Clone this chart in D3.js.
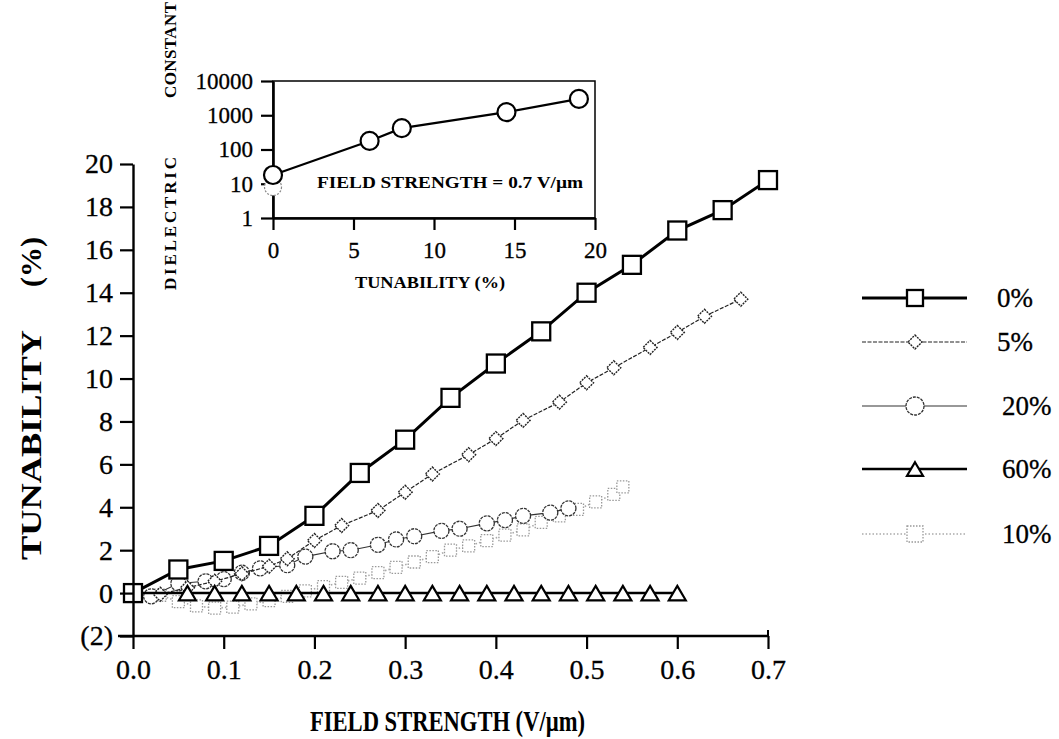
<!DOCTYPE html>
<html>
<head>
<meta charset="utf-8">
<script src="https://cdn.jsdelivr.net/npm/d3@7"></script>
<style>
  body { margin: 0; background: #fff; }
  svg text { font-family: "Liberation Serif", "Times New Roman", "DejaVu Serif", serif !important; }
</style>
</head>
<body>
<svg id="chart" width="1059" height="739"></svg>
<script>
// main chart data: tunability (%) vs field strength (V/um)
const s0x = [0, 0.05, 0.1, 0.15, 0.2, 0.25, 0.3, 0.35, 0.4, 0.45, 0.5, 0.55, 0.6, 0.65, 0.7];
const s0y = [0, 1.1, 1.5, 2.2, 3.6, 5.6, 7.15, 9.1, 10.7, 12.2, 14.0, 15.3, 16.9, 17.85, 19.25];

const s5x = [0.03, 0.06, 0.09, 0.12, 0.15, 0.17, 0.2, 0.23, 0.27, 0.3, 0.33, 0.37, 0.4, 0.43, 0.47, 0.5, 0.53, 0.57, 0.6, 0.63, 0.67];
const s5y = [-0.05, 0.25, 0.55, 0.9, 1.25, 1.6, 2.45, 3.15, 3.85, 4.7, 5.55, 6.45, 7.2, 8.05, 8.9, 9.8, 10.5, 11.45, 12.15, 12.9, 13.7];

const s20x = [0.02, 0.05, 0.08, 0.1, 0.12, 0.14, 0.17, 0.19, 0.22, 0.24, 0.27, 0.29, 0.31, 0.34, 0.36, 0.39, 0.41, 0.43, 0.46, 0.48];
const s20y = [-0.15, 0.45, 0.55, 0.65, 0.95, 1.15, 1.3, 1.7, 1.95, 2.0, 2.25, 2.5, 2.65, 2.9, 3.0, 3.25, 3.4, 3.6, 3.75, 3.95];

const s60x = [0, 0.06, 0.09, 0.12, 0.15, 0.18, 0.21, 0.24, 0.27, 0.3, 0.33, 0.36, 0.39, 0.42, 0.45, 0.48, 0.51, 0.54, 0.57, 0.6];
const s60y = [0, 0, 0, 0, 0, 0, 0, 0, 0, 0, 0, 0, 0, 0, 0, 0, 0, 0, 0, 0];

const s10x = [0.03, 0.05, 0.07, 0.09, 0.11, 0.13, 0.15, 0.17, 0.19, 0.21, 0.23, 0.25, 0.27, 0.29, 0.31, 0.33, 0.35, 0.37, 0.39, 0.41, 0.43, 0.45, 0.47, 0.49, 0.51, 0.53, 0.54];
const s10y = [-0.1, -0.4, -0.6, -0.7, -0.65, -0.5, -0.35, -0.15, 0.1, 0.3, 0.5, 0.7, 0.95, 1.2, 1.45, 1.7, 2.0, 2.2, 2.45, 2.7, 2.95, 3.3, 3.6, 3.9, 4.25, 4.6, 4.95];

const xTicks = [0, 0.1, 0.2, 0.3, 0.4, 0.5, 0.6, 0.7];
const yTicks = [-2, 0, 2, 4, 6, 8, 10, 12, 14, 16, 18, 20];

// inset: dielectric constant vs tunability at 0.7 V/um
const insetX = [0, 6, 8, 14.5, 19];
const insetY = [18, 178, 420, 1230, 3000];
const insetGhostX = [0];
const insetGhostY = [8];
const insetXTicks = [0, 5, 10, 15, 20];
const insetYTicks = [1, 10, 100, 1000, 10000];

const legendLabels = ["0%", "5%", "20%", "60%", "10%"];

const svg = d3.select("#chart");

const x = d3.scaleLinear().domain([0, 0.7]).range([133, 768]);
const y = d3.scaleLinear().domain([-2, 20]).range([636, 164]);

const zip = (xs, ys) => xs.map((v, i) => ({ x: v, y: ys[i] }));

// symbol painters
function drawSym(g, type, size) {
  if (type === "square") {
    g.append("rect").attr("x", -size / 2).attr("y", -size / 2)
      .attr("width", size).attr("height", size);
  } else if (type === "diamond") {
    g.append("path").attr("d", `M0,${-size / 2}L${size / 2},0L0,${size / 2}L${-size / 2},0Z`);
  } else if (type === "circle") {
    g.append("circle").attr("r", size / 2);
  } else if (type === "triangle") {
    const h = size * 0.85;
    g.append("path").attr("d", `M0,${-h / 2}L${size / 2},${h / 2}L${-size / 2},${h / 2}Z`);
  }
}

const series = [
  { name: "10%", data: zip(s10x, s10y), sym: "square", size: 12, line: "#aaa", lw: 1.6, dash: "1.5,2", ms: "#999", mw: 1.3, mdash: "1.5,1.5" },
  { name: "20%", data: zip(s20x, s20y), sym: "circle", size: 15, line: "#333", lw: 1.1, dash: null, ms: "#333", mw: 1.3, mdash: "3,1" },
  { name: "5%", data: zip(s5x, s5y), sym: "diamond", size: 14, line: "#222", lw: 1.2, dash: "4,1.5", ms: "#222", mw: 1.4, mdash: "2,1" },
  { name: "60%", data: zip(s60x, s60y), sym: "triangle", size: 17, line: "#000", lw: 2.5, dash: null, ms: "#000", mw: 2.2, mdash: null },
  { name: "0%", data: zip(s0x, s0y), sym: "square", size: 18, line: "#000", lw: 3, dash: null, ms: "#000", mw: 2.3, mdash: null }
];

const line = d3.line().x(d => x(d.x)).y(d => y(d.y));

series.forEach(s => {
  svg.append("path")
    .datum(s.data)
    .attr("fill", "none")
    .attr("stroke", s.line)
    .attr("stroke-width", s.lw)
    .attr("stroke-dasharray", s.dash)
    .attr("d", line);

  const pts = svg.append("g").selectAll("g")
    .data(s.data.filter(d => !(s.name === "60%" && d.x === 0)))
    .join("g")
    .attr("transform", d => `translate(${x(d.x)},${y(d.y)})`)
    .each(function () { drawSym(d3.select(this), s.sym, s.size); });
  pts.selectAll("*")
    .attr("fill", "#fff")
    .attr("stroke", s.ms)
    .attr("stroke-width", s.mw)
    .attr("stroke-dasharray", s.mdash);
});

// axes
const yAxis = svg.append("g")
  .attr("transform", `translate(${x(0)},0)`)
  .call(d3.axisLeft(y).tickValues(yTicks).tickSize(13).tickSizeOuter(0).tickPadding(7)
    .tickFormat(d => d < 0 ? `(${-d})` : d));

const xAxis = svg.append("g")
  .attr("transform", `translate(0,${y(-2)})`)
  .call(d3.axisBottom(x).tickValues(xTicks).tickSize(13).tickSizeOuter(0).tickPadding(10)
    .tickFormat(d3.format(".1f")));

[yAxis, xAxis].forEach(a => {
  a.select(".domain").attr("stroke-width", 2.4);
  a.selectAll(".tick line").attr("stroke-width", 2.2);
  a.selectAll("text").attr("font-size", 28).attr("fill", "#000")
    .attr("stroke", "#000").attr("stroke-width", 0.3);
});
xAxis.select(".domain").attr("d", `M${x(0) - 15},0H${x(0.7)}`);
xAxis.append("line").attr("x1", x(0.7)).attr("x2", x(0.7)).attr("y1", -6).attr("y2", 0)
  .attr("stroke", "#000").attr("stroke-width", 2);

// y title, word and unit apart as in the print
svg.append("text")
  .attr("transform", "translate(41,445) rotate(-90)")
  .attr("text-anchor", "middle")
  .attr("font-weight", "bold")
  .attr("font-size", 30)
  .attr("textLength", 230)
  .attr("lengthAdjust", "spacingAndGlyphs")
  .text("TUNABILITY");
svg.append("text")
  .attr("transform", "translate(41,262) rotate(-90)")
  .attr("text-anchor", "middle")
  .attr("font-weight", "bold")
  .attr("font-size", 30)
  .text("(%)");

svg.append("text")
  .attr("x", 310)
  .attr("y", 731)
  .attr("font-weight", "bold")
  .attr("font-size", 29)
  .attr("textLength", 275)
  .attr("lengthAdjust", "spacingAndGlyphs")
  .text("FIELD STRENGTH (V/µm)");

// legend
const legendOffsets = [0, 44, 108, 171, 236];
const legendOrder = ["0%", "5%", "20%", "60%", "10%"];
const legend = svg.append("g").attr("transform", "translate(862,298)");
legendOrder.forEach((name, i) => {
  const s = series.find(d => d.name === name);
  const g = legend.append("g").attr("transform", `translate(0,${legendOffsets[i]})`);
  g.append("line")
    .attr("x1", 0).attr("x2", 105)
    .attr("stroke", s.line)
    .attr("stroke-width", s.lw)
    .attr("stroke-dasharray", s.dash);
  const m = g.append("g").attr("transform", "translate(53,0)");
  drawSym(m, s.sym, s.sym === "circle" ? 18 : (s.sym === "diamond" ? 14 : 16));
  m.selectAll("*").attr("fill", "#fff").attr("stroke", s.ms)
    .attr("stroke-width", s.mw).attr("stroke-dasharray", s.mdash);
  g.append("text")
    .attr("x", name.length > 2 ? 140 : 135)
    .attr("y", 9)
    .attr("font-size", 27)
    .attr("stroke", "#000").attr("stroke-width", 0.3)
    .text(legendLabels[i]);
});

// inset
const ix = d3.scaleLinear().domain([0, 20]).range([273, 595]);
const iy = d3.scaleLog().domain([1, 10000]).range([218, 81]);
const inset = svg.append("g");

inset.append("rect")
  .attr("x", ix(0)).attr("y", iy(10000))
  .attr("width", ix(20) - ix(0)).attr("height", iy(1) - iy(10000))
  .attr("fill", "none").attr("stroke", "#000").attr("stroke-width", 1.5);

const iyAxis = inset.append("g")
  .attr("transform", `translate(${ix(0)},0)`)
  .call(d3.axisLeft(iy).tickValues(insetYTicks).tickSize(12).tickSizeOuter(0).tickPadding(8)
    .tickFormat(d3.format("d")));
const ixAxis = inset.append("g")
  .attr("transform", `translate(0,${iy(1)})`)
  .call(d3.axisBottom(ix).tickValues(insetXTicks).tickSize(12).tickSizeOuter(0).tickPadding(12));
[iyAxis, ixAxis].forEach(a => {
  a.select(".domain").attr("stroke-width", 2.6);
  a.selectAll(".tick line").attr("stroke-width", 2.2);
  a.selectAll("text").attr("font-size", 23).attr("fill", "#000")
    .attr("stroke", "#000").attr("stroke-width", 0.3);
});

const iline = d3.line().x(d => ix(d.x)).y(d => iy(d.y));
const insetData = zip(insetX, insetY);
inset.append("path")
  .datum(insetData)
  .attr("fill", "none").attr("stroke", "#000").attr("stroke-width", 2.2)
  .attr("d", iline);
inset.selectAll(".ghost")
  .data(zip(insetGhostX, insetGhostY))
  .join("circle")
  .attr("class", "ghost")
  .attr("cx", d => ix(d.x)).attr("cy", d => iy(d.y)).attr("r", 8.5)
  .attr("fill", "#fff").attr("stroke", "#888").attr("stroke-width", 1.2)
  .attr("stroke-dasharray", "2,1.5");
inset.selectAll(".ipt")
  .data(insetData)
  .join("circle")
  .attr("class", "ipt")
  .attr("cx", d => ix(d.x)).attr("cy", d => iy(d.y)).attr("r", 9)
  .attr("fill", "#fff").attr("stroke", "#000").attr("stroke-width", 2.2);

inset.append("text")
  .attr("x", 317).attr("y", 188)
  .attr("font-weight", "bold").attr("font-size", 17)
  .attr("textLength", 266).attr("lengthAdjust", "spacingAndGlyphs")
  .text("FIELD STRENGTH = 0.7 V/µm");

inset.append("text")
  .attr("x", 355).attr("y", 288)
  .attr("font-weight", "bold").attr("font-size", 16)
  .attr("textLength", 150).attr("lengthAdjust", "spacingAndGlyphs")
  .text("TUNABILITY (%)");

inset.append("text")
  .attr("transform", "translate(176,290) rotate(-90)")
  .attr("font-weight", "bold").attr("font-size", 17)
  .attr("textLength", 133).attr("lengthAdjust", "spacing")
  .text("DIELECTRIC");
inset.append("text")
  .attr("transform", "translate(176,98) rotate(-90)")
  .attr("font-weight", "bold").attr("font-size", 17)
  .attr("textLength", 96).attr("lengthAdjust", "spacing")
  .text("CONSTANT");
</script>
</body>
</html>
